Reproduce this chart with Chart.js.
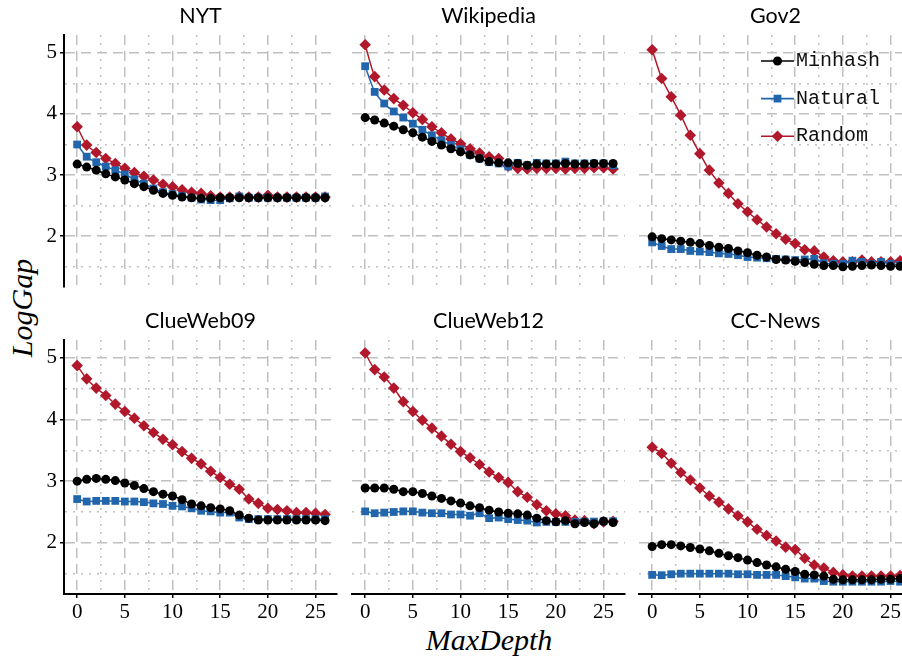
<!DOCTYPE html>
<html><head><meta charset="utf-8">
<script src="https://cdn.jsdelivr.net/npm/chart.js@4.4.0/dist/chart.umd.min.js"></script>
<style>
html,body{margin:0;padding:0;overflow:hidden;background:#fff;width:902px;height:662px;position:relative;}
.panel{position:absolute;}
.panel canvas{display:block;}
#ytitle{position:absolute;left:22px;top:308px;transform:translate(-50%,-50%) rotate(-90deg);font:italic 30px 'Liberation Serif';white-space:nowrap;color:#000;}
#xtitle{position:absolute;left:489px;top:640px;transform:translate(-50%,-50%);font:italic 30px 'Liberation Serif';white-space:nowrap;color:#000;}
</style></head><body>
<div id="ytitle">LogGap</div>
<div id="xtitle">MaxDepth</div>
<script>
const maxDepth = [0,1,2,3,4,5,6,7,8,9,10,11,12,13,14,15,16,17,18,19,20,21,22,23,24,25,26];
const seriesNames = ['Minhash','Natural','Random'];
const panelTitles = ['NYT','Wikipedia','Gov2','ClueWeb09','ClueWeb12','CC-News'];
const xTickValues = [0,2.5,5,7.5,10,12.5,15,17.5,20,22.5,25];
const yTickValues = [1.5,2,2.5,3,3.5,4,4.5,5];

const nytMinhash = [3.18,3.13,3.08,3.02,2.97,2.92,2.86,2.81,2.75,2.70,2.67,2.64,2.63,2.62,2.62,2.63,2.63,2.63,2.63,2.63,2.63,2.63,2.63,2.63,2.63,2.63,2.63];
const nytNatural = [3.50,3.30,3.21,3.14,3.08,3.01,2.93,2.86,2.78,2.72,2.69,2.66,2.63,2.60,2.59,2.59,2.62,2.65,2.63,2.63,2.63,2.63,2.63,2.63,2.63,2.63,2.65];
const nytRandom = [3.79,3.49,3.37,3.27,3.19,3.11,3.04,2.98,2.92,2.85,2.81,2.76,2.72,2.70,2.66,2.64,2.64,2.65,2.64,2.64,2.67,2.64,2.64,2.64,2.64,2.64,2.64];

const wikiMinhash = [3.94,3.90,3.85,3.80,3.74,3.69,3.62,3.55,3.49,3.43,3.38,3.33,3.27,3.22,3.20,3.20,3.19,3.16,3.18,3.18,3.18,3.19,3.18,3.18,3.19,3.19,3.19];
const wikiNatural = [4.78,4.36,4.17,4.04,3.94,3.84,3.74,3.65,3.57,3.49,3.42,3.33,3.27,3.21,3.19,3.14,3.20,3.16,3.20,3.19,3.19,3.22,3.19,3.19,3.19,3.19,3.16];
const wikiRandom = [5.13,4.61,4.39,4.25,4.14,4.02,3.91,3.79,3.69,3.59,3.51,3.43,3.36,3.30,3.27,3.15,3.11,3.10,3.11,3.11,3.11,3.10,3.11,3.11,3.12,3.12,3.10];

const gov2Minhash = [1.99,1.96,1.94,1.92,1.90,1.88,1.85,1.82,1.80,1.76,1.73,1.69,1.66,1.62,1.61,1.59,1.57,1.54,1.52,1.52,1.50,1.51,1.52,1.53,1.52,1.51,1.51];
const gov2Natural = [1.90,1.84,1.79,1.79,1.76,1.75,1.74,1.72,1.71,1.69,1.66,1.65,1.64,1.63,1.62,1.61,1.62,1.63,1.56,1.55,1.55,1.60,1.58,1.55,1.58,1.55,1.53];
const gov2Random = [5.05,4.58,4.28,3.98,3.65,3.35,3.08,2.87,2.70,2.53,2.40,2.27,2.15,2.04,1.95,1.88,1.78,1.76,1.66,1.60,1.58,1.58,1.61,1.58,1.58,1.58,1.60];

const clue09Minhash = [3.00,3.03,3.045,3.03,3.01,2.97,2.93,2.88,2.83,2.79,2.76,2.70,2.63,2.60,2.57,2.55,2.52,2.45,2.40,2.37,2.37,2.37,2.37,2.37,2.37,2.37,2.36];
const clue09Natural = [2.71,2.67,2.68,2.68,2.68,2.67,2.67,2.66,2.64,2.63,2.60,2.59,2.56,2.52,2.51,2.49,2.49,2.41,2.385,2.385,2.385,2.385,2.385,2.385,2.385,2.385,2.385];
const clue09Random = [4.875,4.66,4.51,4.39,4.25,4.13,4.02,3.90,3.79,3.68,3.59,3.48,3.37,3.28,3.16,3.06,2.95,2.87,2.71,2.64,2.56,2.54,2.52,2.49,2.49,2.48,2.46];

const clue12Minhash = [2.89,2.89,2.89,2.87,2.83,2.83,2.80,2.76,2.72,2.68,2.645,2.60,2.57,2.53,2.50,2.48,2.47,2.45,2.40,2.36,2.34,2.36,2.31,2.33,2.31,2.35,2.33];
const clue12Natural = [2.51,2.48,2.49,2.50,2.51,2.51,2.49,2.48,2.48,2.46,2.46,2.44,2.48,2.40,2.41,2.385,2.37,2.36,2.33,2.34,2.34,2.34,2.34,2.345,2.345,2.35,2.35];
const clue12Random = [5.08,4.81,4.69,4.51,4.29,4.13,3.99,3.86,3.73,3.60,3.48,3.38,3.27,3.15,3.06,2.98,2.83,2.74,2.62,2.52,2.47,2.44,2.37,2.36,2.31,2.34,2.35];

const ccMinhash = [1.94,1.97,1.97,1.95,1.925,1.90,1.87,1.83,1.79,1.76,1.72,1.68,1.64,1.61,1.57,1.535,1.49,1.48,1.46,1.41,1.40,1.40,1.40,1.40,1.41,1.41,1.42];
const ccNatural = [1.48,1.475,1.49,1.50,1.50,1.50,1.50,1.50,1.50,1.49,1.49,1.48,1.48,1.48,1.46,1.44,1.42,1.42,1.38,1.37,1.37,1.37,1.37,1.37,1.37,1.38,1.37];
const ccRandom = [3.55,3.45,3.29,3.14,3.02,2.89,2.76,2.66,2.55,2.44,2.34,2.22,2.12,2.03,1.93,1.89,1.75,1.64,1.59,1.52,1.48,1.46,1.46,1.46,1.46,1.46,1.47];

const panelSeries = [
  [nytMinhash, nytNatural, nytRandom],
  [wikiMinhash, wikiNatural, wikiRandom],
  [gov2Minhash, gov2Natural, gov2Random],
  [clue09Minhash, clue09Natural, clue09Random],
  [clue12Minhash, clue12Natural, clue12Random],
  [ccMinhash, ccNatural, ccRandom]
];

// styles
const seriesColors = ['#000000', '#2166ac', '#b2182b'];
const seriesShapes = ['circle', 'rect', 'rectRot'];
const seriesRadius = [4.5, 5.5, 5.8];
const GRID = '#c0c0c0';

function drawMarker(ctx, style, r, x, y) {
  if (Chart.helpers && Chart.helpers.drawPoint) {
    Chart.helpers.drawPoint(ctx, {pointStyle: style, radius: r, rotation: 0, borderWidth: 0}, x, y);
    return;
  }
  ctx.beginPath();
  if (style === 'circle') ctx.arc(x, y, r, 0, Math.PI * 2);
  else if (style === 'rect') { const s = r * Math.SQRT1_2; ctx.rect(x - s, y - s, 2 * s, 2 * s); }
  else { ctx.moveTo(x, y - r); ctx.lineTo(x + r, y); ctx.lineTo(x, y + r); ctx.lineTo(x - r, y); ctx.closePath(); }
  ctx.fill();
}

const insideLegend = {
  id: 'insideLegend',
  afterDatasetsDraw(chart, args, opts) {
    if (!opts || !opts.show) return;
    const ctx = chart.ctx, a = chart.chartArea;
    chart.data.datasets.forEach((ds, i) => {
      const y = a.top + 26 + i * 37.6;
      const x0 = a.left + 122, x1 = a.left + 155, xm = (x0 + x1) / 2;
      ctx.save();
      ctx.strokeStyle = ds.borderColor;
      ctx.lineWidth = 1.6;
      ctx.beginPath(); ctx.moveTo(x0, y); ctx.lineTo(x1, y); ctx.stroke();
      ctx.fillStyle = ds.pointBackgroundColor;
      drawMarker(ctx, ds.pointStyle, ds.pointRadius, xm, y);
      ctx.fillStyle = '#111';
      ctx.font = '20px "Liberation Mono"';
      ctx.textBaseline = 'middle';
      ctx.textAlign = 'left';
      ctx.fillText(ds.label, a.left + 157, y);
      ctx.restore();
    });
  }
};

const colAreaLeft = [64, 352, 639];
const rowTop = [0, 305];
const rowAreaH = [252, 254];
const rowXH = [22, 40];

function isMajorX(v) { return Math.abs(v % 5) < 1e-9; }
function isMajorY(v) { return Math.abs(v - Math.round(v)) < 1e-9; }

panelTitles.forEach((title, idx) => {
  const col = idx % 3, row = Math.floor(idx / 3);
  const w = 64 + 273 + 64;
  const h = 35 + rowAreaH[row] + rowXH[row];
  const div = document.createElement('div');
  div.className = 'panel';
  div.style.left = (colAreaLeft[col] - 64) + 'px';
  div.style.top = rowTop[row] + 'px';
  div.style.width = w + 'px';
  div.style.height = h + 'px';
  const cv = document.createElement('canvas');
  cv.width = w; cv.height = h;
  cv.style.width = w + 'px'; cv.style.height = h + 'px';
  div.appendChild(cv);
  document.body.appendChild(div);

  const series = panelSeries[idx];
  const datasets = seriesNames.map((name, s) => ({
    label: name,
    data: maxDepth.map((x, k) => ({x: x, y: series[s][k]})),
    borderColor: seriesColors[s],
    backgroundColor: seriesColors[s],
    pointBackgroundColor: seriesColors[s],
    pointBorderWidth: 0,
    pointStyle: seriesShapes[s],
    pointRadius: seriesRadius[s],
    borderWidth: 1.5,
    tension: 0.25
  }));

  new Chart(cv, {
    type: 'line',
    data: {datasets},
    plugins: [insideLegend],
    options: {
      responsive: false,
      animation: false,
      devicePixelRatio: 1,
      layout: {padding: 0},
      plugins: {
        legend: {display: false},
        tooltip: {enabled: false},
        title: {
          display: true, text: title, color: '#000',
          font: {family: 'Lato', size: 21.5, weight: 'normal', lineHeight: 1.2},
          padding: {top: 3, bottom: 6.2}
        },
        insideLegend: {show: idx === 2}
      },
      scales: {
        x: {
          type: 'linear', min: -1.38, max: 27.25,
          afterBuildTicks: s => { s.ticks = xTickValues.map(v => ({value: v})); },
          afterFit: s => { s.height = rowXH[row]; },
          ticks: {
            display: row === 1, autoSkip: false, maxRotation: 0, padding: 2, color: '#000',
            font: {family: 'Liberation Serif', size: 21},
            callback: v => isMajorX(v) ? String(v) : ''
          },
          grid: {
            color: GRID, lineWidth: 1.5, drawTicks: row === 1, tickLength: 4, tickWidth: 1.5,
            tickColor: c => (c.tick && isMajorX(c.tick.value)) ? '#000' : 'rgba(0,0,0,0)',
            tickBorderDash: []
          },
          border: {
            display: row === 1, color: '#000', width: 2,
            dash: c => c.tick ? (isMajorX(c.tick.value) ? [10, 6] : [2, 6]) : []
          }
        },
        y: {
          type: 'linear', position: 'left', min: 1.17, max: 5.29,
          afterBuildTicks: s => { s.ticks = yTickValues.map(v => ({value: v})); },
          afterFit: s => { s.width = 64; },
          ticks: {
            display: col === 0, autoSkip: false, padding: 3, color: '#000',
            font: {family: 'Liberation Serif', size: 21},
            callback: v => isMajorY(v) ? String(v) : ''
          },
          grid: {
            color: GRID, lineWidth: 1.5, drawTicks: col === 0, tickLength: 4, tickWidth: 1.5,
            tickColor: c => (c.tick && isMajorY(c.tick.value)) ? '#000' : 'rgba(0,0,0,0)',
            tickBorderDash: []
          },
          border: {
            display: col === 0, color: '#000', width: 2,
            dash: c => c.tick ? (isMajorY(c.tick.value) ? [10, 6] : [2, 6]) : []
          }
        },
        yRight: {
          type: 'linear', position: 'right', display: true, min: 0, max: 1,
          afterFit: s => { s.width = 64; },
          ticks: {display: false},
          grid: {display: false, drawOnChartArea: false, drawTicks: false},
          border: {display: false}
        }
      }
    }
  });
});
</script>
</body></html>
